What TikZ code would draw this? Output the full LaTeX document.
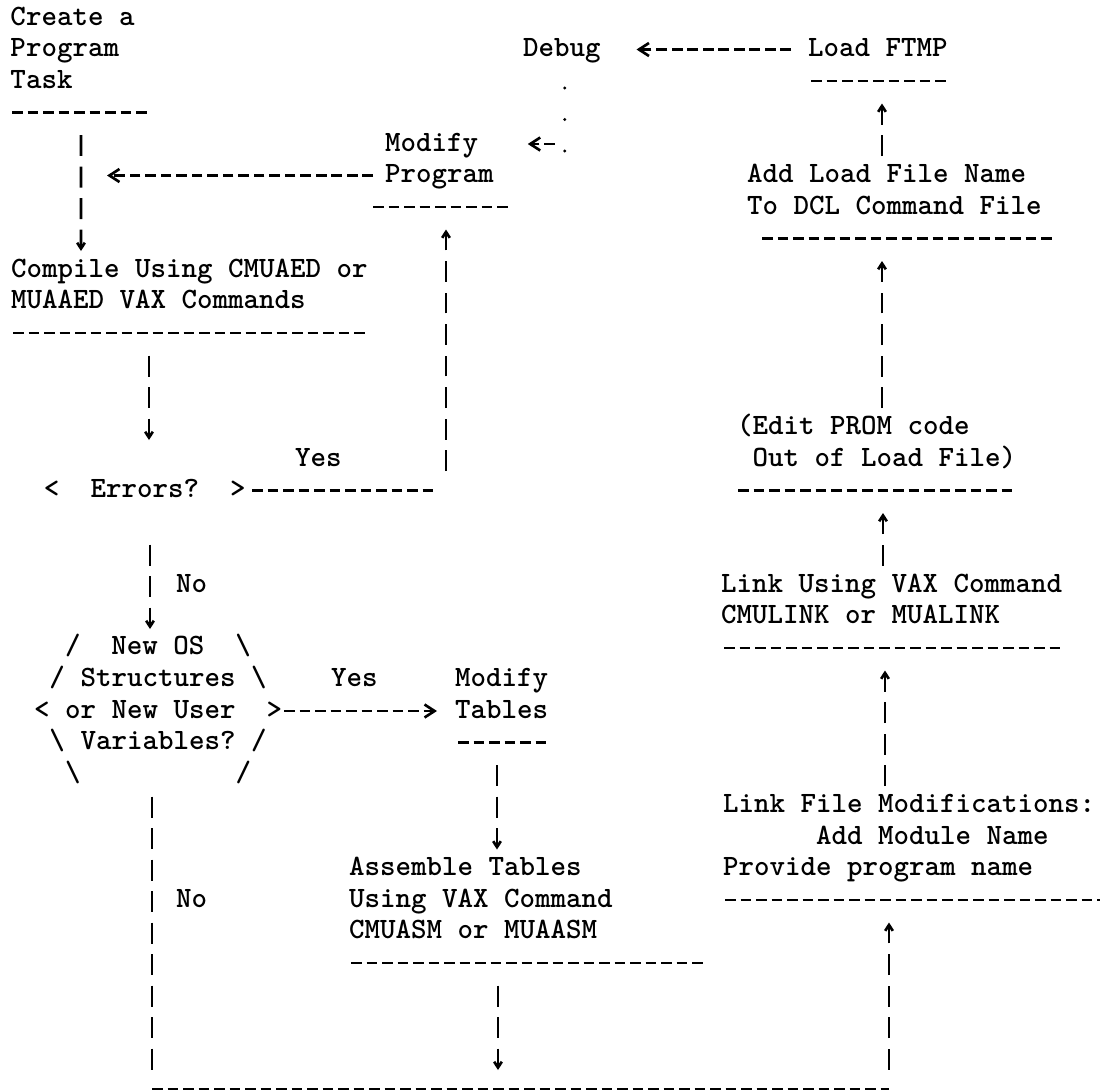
\documentclass[tikz,border=0pt]{standalone}
\usepackage{tikz}
\usetikzlibrary{arrows.meta,calc}
\tikzset{
  txt/.style={anchor=base west,inner sep=0pt,outer sep=0pt,align=left,
    font=\ttfamily\bfseries\fontsize{10pt}{10.67pt}\selectfont},
  hline/.style={line width=0.9pt,dash pattern=on 3.56pt off 1.69pt},
  vbar/.style={line width=0.9pt,dash pattern=on 7.11pt off 3.56pt},
  hflow/.style={hline,-{Straight Barb[length=3.4pt,width=4.4pt]}},
  vflow/.style={vbar,-{Straight Barb[length=2pt,width=2.6pt]}},
  dotline/.style={line width=1.1pt,line cap=round,dash pattern=on 0pt off 10.67pt}
}

\begin{document}
\begin{tikzpicture}[x=0.3387pt,y=-0.3387pt]
  \useasboundingbox (0,0) rectangle (1100,1092);

  %left column, define nodes first (placed at the baseline of their last line)
  \node (task) at (10.5,88) [txt] {Create a\\Program\\Task};
  \node (compile) at (11,308.5) [txt] {Compile Using CMUAED or\\MUAAED VAX Commands};
  \node (errors) at (44,497.5) [txt] {<\ \ Errors?\ \ >};
  \node (newos) at (34,781) [txt] {\ \ /\ \ New OS\ \ \textbackslash\\\ /\ Structures\ \textbackslash\\<\ or New User\ \ >\\\ \textbackslash\ Variables?\ /\\\ \ \textbackslash\ \ \ \ \ \ \ \ \ \ /};

  %middle column
  \node (debug) at (523,56.5) [txt] {Debug};
  \node (modprog) at (385,182.5) [txt] {Modify\\Program};
  \node (modtab) at (455,718) [txt] {Modify\\Tables};
  \node (assemble) at (349,938.5) [txt] {Assemble Tables\\Using VAX Command\\CMUASM or MUAASM};

  %right column
  \node (loadftmp) at (808,56.5) [txt] {Load FTMP};
  \node (addload) at (747,214) [txt] {Add Load File Name\\To DCL Command File};
  \node (editprom) at (737,466) [txt] {(Edit PROM code\\\ Out of Load File)};
  \node (linkvax) at (721,623.5) [txt] {Link Using VAX Command\\CMULINK or MUALINK};
  \node (linkmod) at (723,875.5) [txt] {Link File Modifications:\\\ \ \ \ \ \ Add Module Name\\Provide program name};

  %branch labels
  \node (yesa) at (295,466) [txt] {Yes};
  \node (noa) at (176,592) [txt] {No};
  \node (yesb) at (331,686.5) [txt] {Yes};
  \node (nob) at (176,907) [txt] {No};

  %underline each box
  \draw[hline] ($(task.base west)+(1.5,24.5)$) -- ++(134.5,0);
  \draw[hline] ($(loadftmp.base west)+(3,24.5)$) -- ++(134.5,0);
  \draw[hline] ($(modprog.base west)+(-12,24.5)$) -- ++(134.5,0);
  \draw[hline] ($(addload.base west)+(15,24.5)$) -- ++(289.5,0);
  \draw[hline] ($(compile.base west)+(2,24.5)$) -- ++(351.5,0);
  \draw[hline] ($(editprom.base west)+(1,24.5)$) -- ++(274,0);
  \draw[hline] ($(linkvax.base west)+(3,24.5)$) -- ++(336,0);
  \draw[hline] ($(modtab.base west)+(3,24.5)$) -- ++(88,0);
  \draw[hline] ($(linkmod.base west)+(2,24.5)$) -- ++(382.5,0);
  \draw[hline] ($(assemble.base west)+(2,24.5)$) -- ++(351.5,0);

  %junctions where lines meet
  \coordinate (jtask) at (81,175.5);
  \coordinate (dbgturn) at ($(debug.base)+(3,94.5)$);
  \coordinate (jyes) at (446,490.5);
  \coordinate (jl) at (152,1089);
  \coordinate (jr) at (889,1089);

  %top loop: task, compile, modify program, debug
  \draw[vflow] ($(task.base west)+(70.5,47)$) -- ($(compile.base west)+(70,-57.5)$);
  \draw[hflow] ($(modprog.base west)+(-12,-7)$) -- ($(jtask)+(26,0)$);
  \draw[dotline] (dbgturn) -- ++(0,-66);
  \draw[hflow] ($(dbgturn)+(-10,-7)$) -- ($(dbgturn)+(-37,-7)$);
  \draw[hflow] ($(loadftmp.base west)+(-17,-7)$) -- ($(debug.base east)+(36,-7)$);

  %errors decision
  \draw[vflow] ($(compile.base west)+(138,47)$) -- ($(errors.base west)+(105,-57.5)$);
  \draw[hline] ($(errors.base east)+(6.5,-7)$) -- ($(jyes)+(-13,0)$);
  \draw[vflow] ($(jyes)+(0,-19.5)$) -- ($(modprog.base west)+(61,47)$);
  \draw[vflow] ($(errors.base west)+(106,47)$) -- ($(newos.base west)+(116,-152)$);

  %new structures decision
  \draw[hflow] ($(newos.base west)+(250,-70)$) -- ($(modtab.base west)+(-18,-7)$);
  \draw[vflow] ($(modtab.base west)+(42,47)$) -- ($(assemble.base west)+(148,-89)$);
  \draw[vflow] ($(assemble.base west)+(149,47)$) -- ($(jl)+(346,-19)$);
  \draw[vbar] ($(newos.base west)+(118,15.5)$) -- ($(jl)+(0,-19.5)$);
  \draw[hline] (jl) -- (jr);

  %right column, going up
  \draw[vflow] ($(jr)+(0,-19.5)$) -- ($(linkmod.base west)+(166,47)$);
  \draw[vflow] ($(linkmod.base west)+(162,-89.5)$) -- ($(linkvax.base west)+(164,47)$);
  \draw[vflow] ($(linkvax.base west)+(162,-58)$) -- ($(editprom.base west)+(146,47)$);
  \draw[vflow] ($(editprom.base west)+(145,-58)$) -- ($(addload.base west)+(135,47)$);
  \draw[vflow] ($(addload.base west)+(135,-58)$) -- ($(loadftmp.base west)+(74,47)$);
\end{tikzpicture}
\end{document}
